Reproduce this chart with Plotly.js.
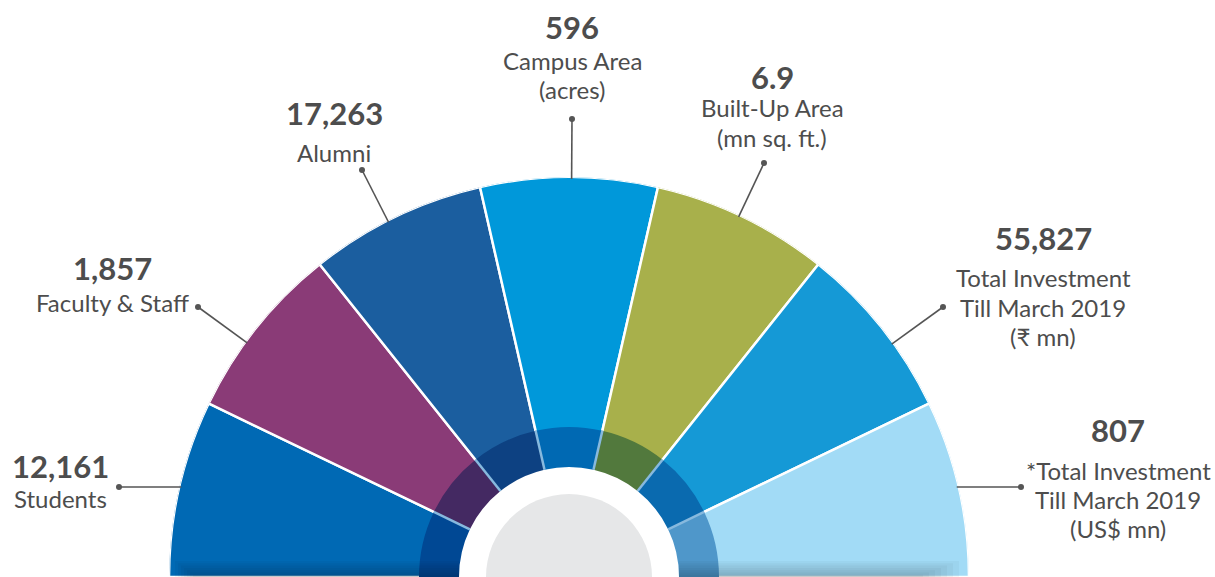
<!DOCTYPE html>
<html><head><meta charset="utf-8">
<script src="https://cdn.plot.ly/plotly-3.0.1.min.js"></script>
<style>html,body{margin:0;padding:0;background:#fff}#chart{width:1215px;height:577px}</style>
</head><body><div id="chart"></div>
<script>
// ---- data ----
const categories = ["Students", "Faculty & Staff", "Alumni", "Campus Area<br>(acres)", "Built-Up Area<br>(mn sq. ft.)", "Total Investment<br>Till March 2019<br>(₹ mn)", "*Total Investment<br>Till March 2019<br>(US$ mn)"];
const values = [12161, 1857, 17263, 596, 6.9, 55827, 807];
const segmentColors = ["#0069B4", "#8A3B77", "#1B5E9F", "#0098DA", "#A8B04B", "#1599D6", "#A2DBF6"];

// ---- layout geometry (pixels) ----
const W = 1215, H = 577;
const CX = 569, CY = 577;
const R_OUT = 400, R_RING = 150, R_HOLE = 110, R_CORE = 83;
const numberPos = [[60,466],[112,268],[334,113],[572,27],[772,77],[1043,238],[1118,430]];
const labelTop  = [[60,498],[112,302],[334,152],[572,60],[772,108],[1043,278],[1118,470]];
const LINE_GAP = 29;
const leaderDots = [[119,487,'h'],[198,307,'r'],[362,170,'r'],[572,119,'r'],[764,163,'r'],[943,307,'r'],[1021,487,'h']];
const TEXT_COLOR = "#4D4D4D";
const FONT = "Lato, 'Open Sans', sans-serif";

const n = categories.length;
const step = 180 / n;
const theta = categories.map((_, i) => (i + 0.5) * step);

function multiply(hex, m) {
  const v = parseInt(hex.slice(1), 16);
  const r = (v >> 16) & 255, g = (v >> 8) & 255, b = v & 255;
  return `rgb(${Math.round(r*m[0])},${Math.round(g*m[1])},${Math.round(b*m[2])})`;
}
const shade = [0.49, 0.69, 0.82];
const innerColors = segmentColors.map(c => multiply(c, shade));

const traces = [];
traces.push({
  type: 'barpolar', theta: theta, width: categories.map(() => step),
  base: categories.map(() => R_HOLE), r: categories.map(() => R_OUT - R_HOLE),
  marker: {color: segmentColors, line: {color: '#ffffff', width: 2.5}},
  hoverinfo: 'skip', showlegend: false
});
traces.push({
  type: 'barpolar', theta: theta, width: categories.map(() => step),
  base: categories.map(() => R_HOLE), r: categories.map(() => R_RING - R_HOLE),
  marker: {color: innerColors, line: {width: 0}},
  hoverinfo: 'skip', showlegend: false
});
const sepR = [], sepT = [];
for (let k = 1; k < n; k++) { sepR.push(R_HOLE, R_RING, null); sepT.push(k*step, k*step, null); }
traces.push({
  type: 'scatterpolar', mode: 'lines', r: sepR, theta: sepT,
  line: {color: 'rgb(135,185,222)', width: 2.5}, hoverinfo: 'skip', showlegend: false
});
traces.push({
  type: 'barpolar', theta: [90], width: [180], base: [0], r: [R_CORE],
  marker: {color: '#E6E7E8', line: {width: 0}}, hoverinfo: 'skip', showlegend: false
});

const px = x => x / W, py = y => 1 - y / H;
const annotations = [];
const fmt = v => v.toLocaleString('en-US');
categories.forEach((c, i) => {
  annotations.push({xref:'paper', yref:'paper', x: px(numberPos[i][0]), y: py(numberPos[i][1]),
    xanchor:'center', yanchor:'middle', showarrow:false, text: '<b>' + fmt(values[i]) + '</b>',
    font:{family: FONT, size: 31, color: TEXT_COLOR}});
  c.split('<br>').forEach((line, j) => {
    annotations.push({xref:'paper', yref:'paper', x: px(labelTop[i][0]), y: py(labelTop[i][1] + j*LINE_GAP),
      xanchor:'center', yanchor:'middle', showarrow:false, text: line,
      font:{family: FONT, size: 24, color: TEXT_COLOR}});
  });
});

const shapes = [];
leaderDots.forEach(([dx, dy, mode]) => {
  let ex, ey;
  if (mode === 'h') {
    const half = Math.sqrt(R_OUT*R_OUT - (CY-dy)*(CY-dy));
    ex = dx < CX ? CX - half + 2 : CX + half - 2; ey = dy;
  } else {
    const vx = dx - CX, vy = dy - CY, d = Math.hypot(vx, vy);
    ex = CX + vx * (R_OUT - 2) / d; ey = CY + vy * (R_OUT - 2) / d;
  }
  shapes.push({type:'line', xref:'paper', yref:'paper', x0:px(dx), y0:py(dy), x1:px(ex), y1:py(ey),
    line:{color:'#555555', width:1.6}});
  const rr = 3;
  shapes.push({type:'circle', xref:'paper', yref:'paper', x0:px(dx-rr), x1:px(dx+rr), y0:py(dy+rr), y1:py(dy-rr),
    fillcolor:'#555555', line:{width:0}});
});
// soft bottom shadow over the coloured band only
for (let i = 0; i < 7; i++) {
  const yTop = py(561 + i*2.3);
  shapes.push({type:'rect', xref:'paper', yref:'paper', layer:'above',
    x0: px(CX - R_OUT + 6 + i*3), x1: px(CX - R_HOLE), y0: py(H), y1: yTop,
    fillcolor:'rgba(0,0,0,0.033)', line:{width:0}});
  shapes.push({type:'rect', xref:'paper', yref:'paper', layer:'above',
    x0: px(CX + R_HOLE), x1: px(CX + R_OUT - 10 - i*6), y0: py(H), y1: yTop,
    fillcolor:'rgba(0,0,0,0.033)', line:{width:0}});
}

const layout = {
  width: W, height: H, margin: {l:0, r:0, t:0, b:0},
  paper_bgcolor: '#ffffff', plot_bgcolor: '#ffffff', showlegend: false,
  polar: {
    domain: {x: [(CX - R_OUT)/W, (CX + R_OUT)/W], y: [0, R_OUT/H]},
    sector: [0, 180], hole: 0, bgcolor: 'rgba(0,0,0,0)', barmode: 'overlay',
    radialaxis: {visible: false, range: [0, R_OUT]},
    angularaxis: {visible: false, direction: 'clockwise', rotation: 180, showgrid: false}
  },
  annotations: annotations, shapes: shapes
};
Plotly.newPlot('chart', traces, layout, {staticPlot: true, displayModeBar: false});
</script></body></html>
